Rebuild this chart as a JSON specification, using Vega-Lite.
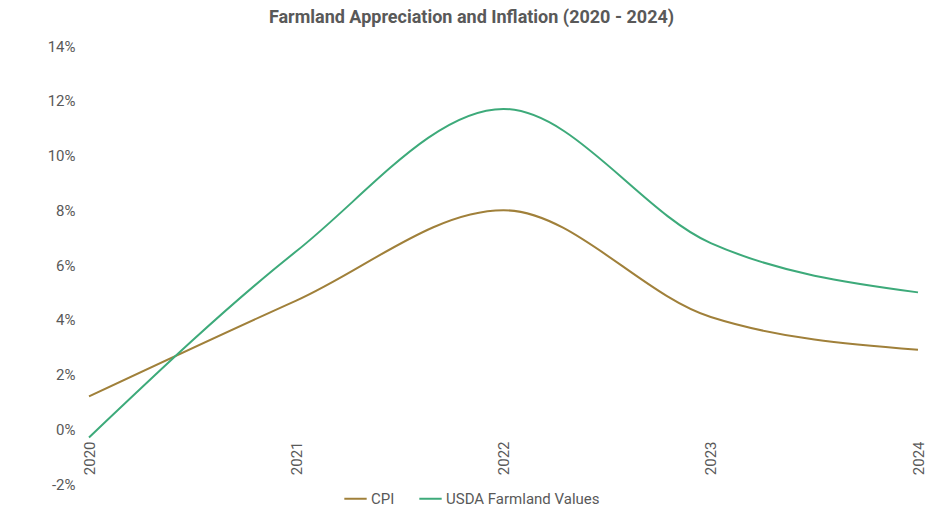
{
  "$schema": "https://vega.github.io/schema/vega-lite/v6.json",
  "autosize": "none",
  "width": 829,
  "height": 438,
  "padding": {"left": 89, "top": 46, "right": 26, "bottom": 35},
  "background": "white",
  "config": {
    "font": "Roboto",
    "view": {"stroke": null}
  },
  "title": {
    "text": "Farmland Appreciation and Inflation (2020 - 2024)",
    "fontSize": 18,
    "fontWeight": "bold",
    "color": "#595959",
    "anchor": "middle",
    "dx": -32,
    "offset": 12
  },
  "data": {
    "values": [
      {"year": "2020", "series": "CPI", "rate": 1.2},
      {"year": "2021", "series": "CPI", "rate": 4.7},
      {"year": "2022", "series": "CPI", "rate": 8.0},
      {"year": "2023", "series": "CPI", "rate": 4.1},
      {"year": "2024", "series": "CPI", "rate": 2.9},
      {"year": "2020", "series": "USDA Farmland Values", "rate": -0.3},
      {"year": "2021", "series": "USDA Farmland Values", "rate": 6.5},
      {"year": "2022", "series": "USDA Farmland Values", "rate": 11.7},
      {"year": "2023", "series": "USDA Farmland Values", "rate": 6.8},
      {"year": "2024", "series": "USDA Farmland Values", "rate": 5.0}
    ]
  },
  "mark": {"type": "line", "interpolate": "monotone", "strokeWidth": 2},
  "encoding": {
    "x": {
      "field": "year",
      "type": "ordinal",
      "scale": {"type": "point", "padding": 0},
      "axis": {
        "title": null,
        "labelAngle": -90,
        "ticks": false,
        "domain": false,
        "offset": -55,
        "labelPadding": 12,
        "labelFontSize": 15,
        "labelColor": "#595959"
      }
    },
    "y": {
      "field": "rate",
      "type": "quantitative",
      "scale": {"domain": [-2, 14], "nice": false},
      "axis": {
        "title": null,
        "values": [-2, 0, 2, 4, 6, 8, 10, 12, 14],
        "labelExpr": "datum.value + '%'",
        "grid": false,
        "ticks": false,
        "domain": false,
        "labelPadding": 14,
        "labelFontSize": 15,
        "labelColor": "#595959"
      }
    },
    "color": {
      "field": "series",
      "type": "nominal",
      "scale": {"domain": ["CPI", "USDA Farmland Values"], "range": ["#A0803A", "#3DAA7A"]},
      "legend": {
        "title": null,
        "orient": "none",
        "legendX": 254,
        "legendY": 440,
        "direction": "horizontal",
        "symbolType": "stroke",
        "symbolSize": 500,
        "symbolStrokeWidth": 2,
        "labelFontSize": 15,
        "labelColor": "#595959",
        "labelOffset": 3,
        "columnPadding": 20
      }
    }
  }
}
